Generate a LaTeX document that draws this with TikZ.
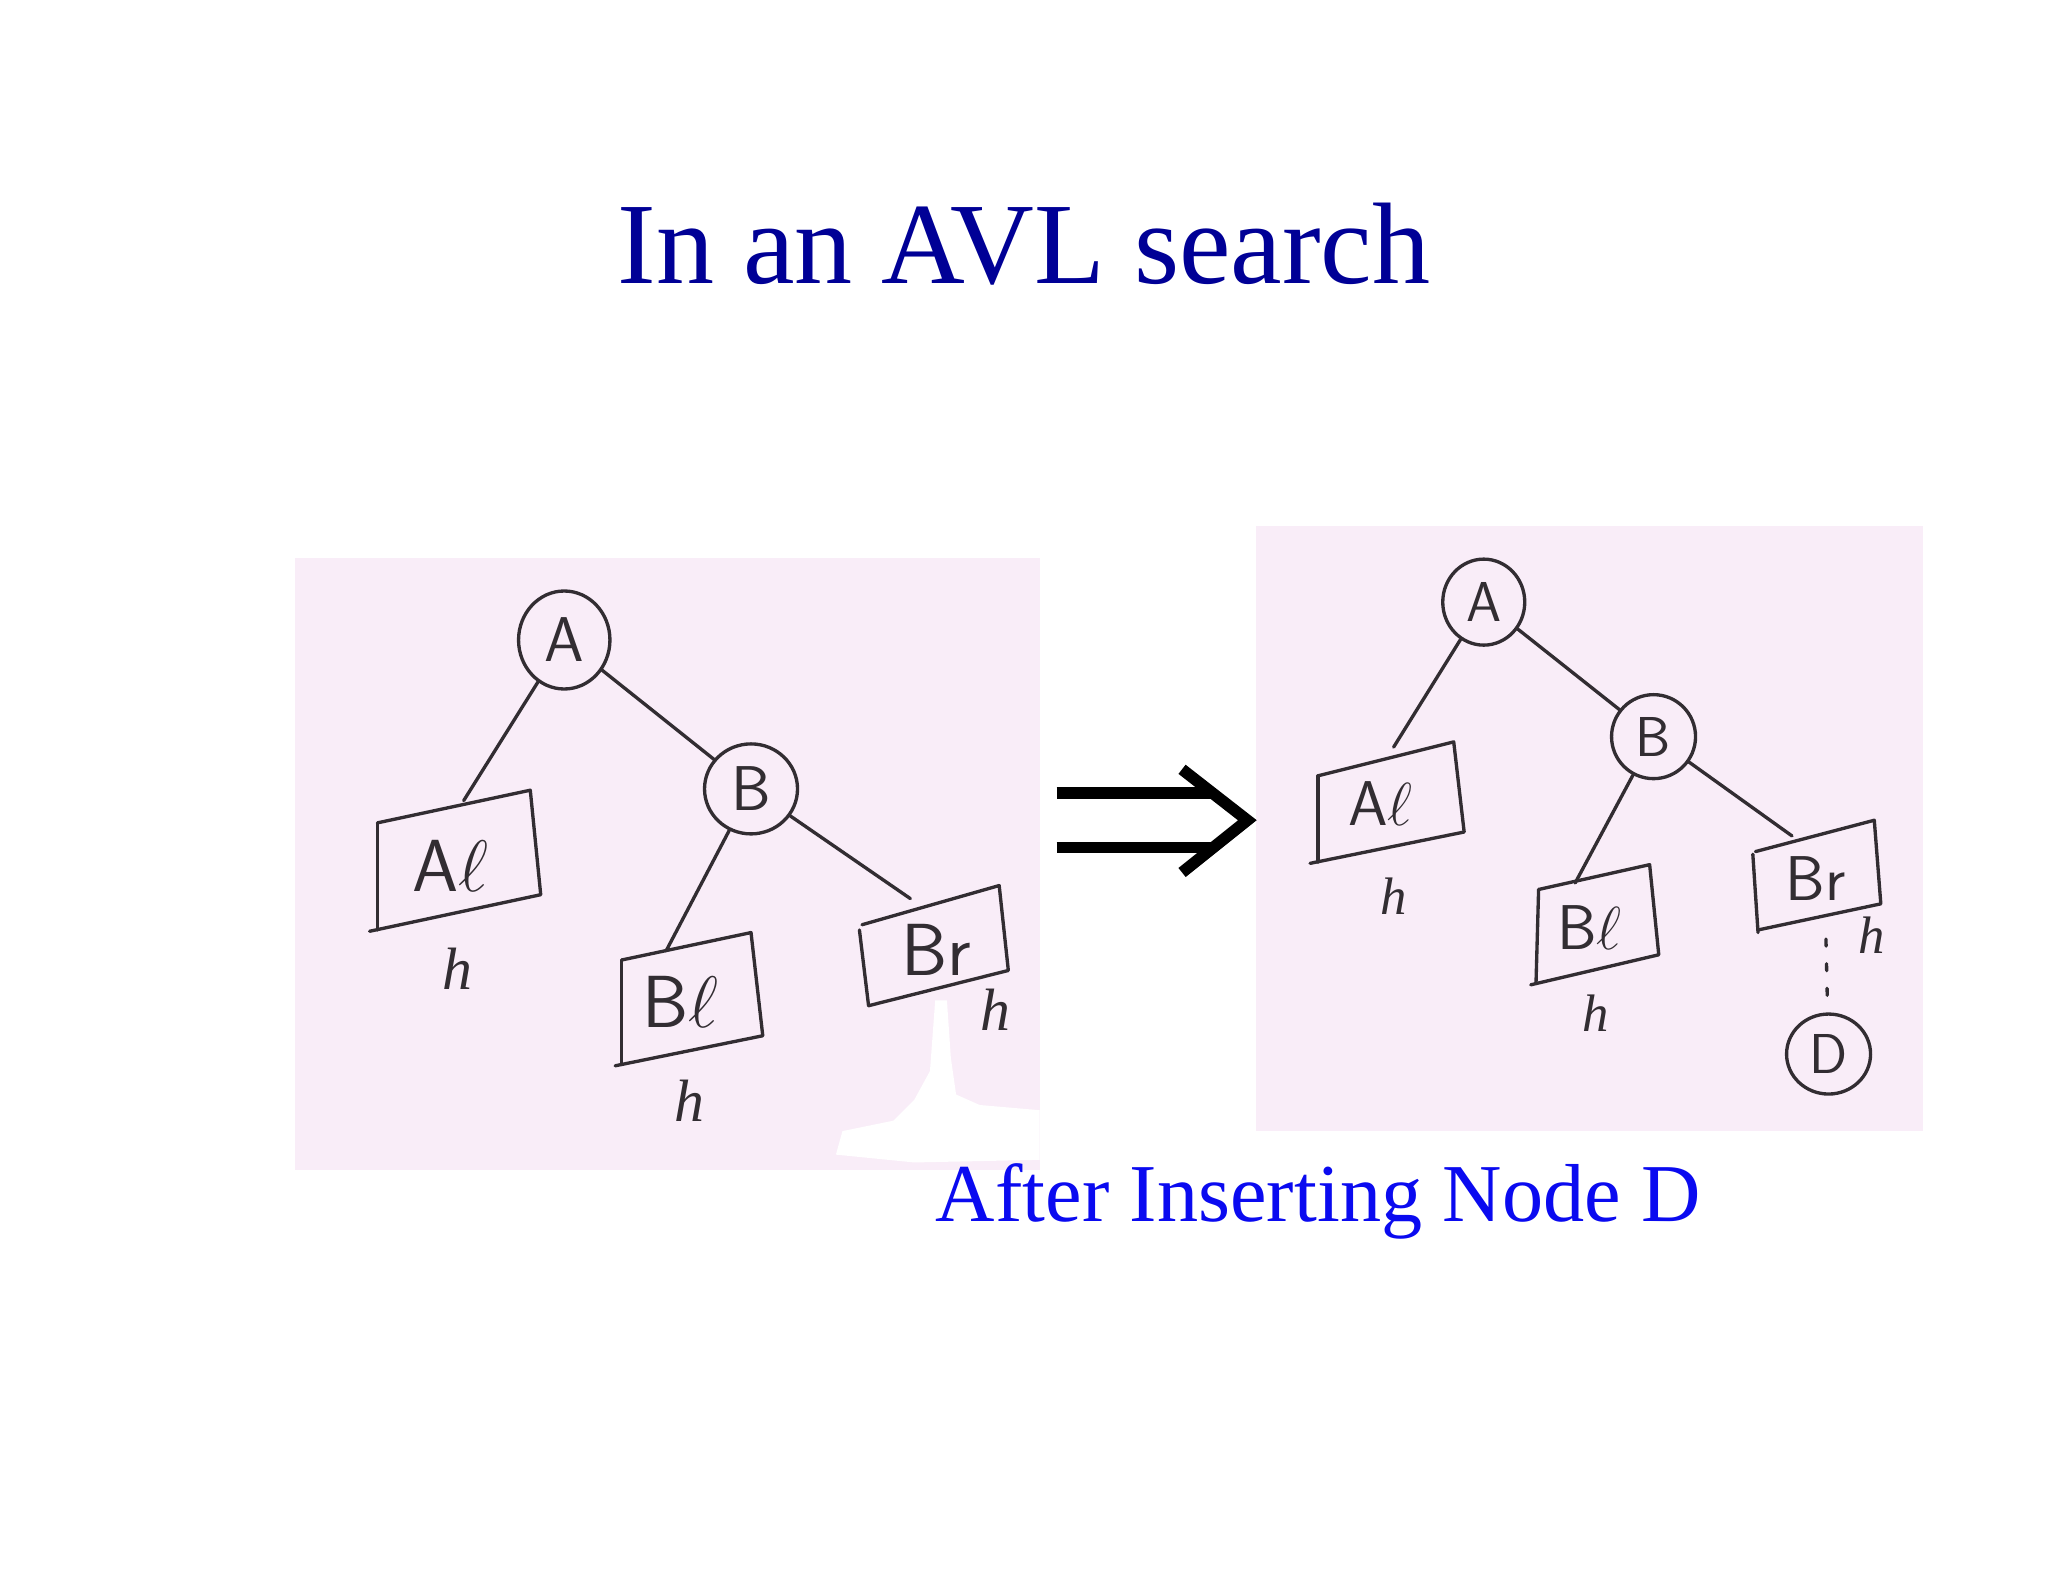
\documentclass[tikz,border=0pt]{standalone}
\usepackage{fontspec}
\usetikzlibrary{shapes.geometric}
\setmainfont{Liberation Serif}
\definecolor{titleblue}{RGB}{0,0,150}
\definecolor{capblue}{RGB}{10,10,240}
\definecolor{paper}{RGB}{249,237,248}
\definecolor{pen}{RGB}{50,45,50}
\begin{document}
\begin{tikzpicture}[x=0.01306cm,y=-0.01306cm,
  hand/.style={draw=pen,line width=0.95pt,line join=round,line cap=round},
  circL/.style={ellipse,draw=pen,line width=0.95pt,minimum width=0.914cm,minimum height=0.98cm,inner sep=0pt,font=\sffamily\fontsize{18}{18}\selectfont,text=pen},
  circR/.style={ellipse,draw=pen,line width=0.95pt,minimum width=0.82cm,minimum height=0.86cm,inner sep=0pt,font=\sffamily\fontsize{16}{16}\selectfont,text=pen},
  lblL/.style={font=\sffamily\fontsize{21}{21}\selectfont,text=pen,inner sep=0pt},
  lblR/.style={font=\sffamily\fontsize{18}{18}\selectfont,text=pen,inner sep=0pt},
  hL/.style={font=\fontsize{17}{17}\selectfont,text=pen,inner sep=0pt},
  hR/.style={font=\fontsize{15}{15}\selectfont,text=pen,inner sep=0pt},
  conn/.style={draw=pen,line width=0.95pt,line cap=round}]
\useasboundingbox (0,0) rectangle (1568,1211);
\fill[white] (0,0) rectangle (1568,1211);
% panels
\fill[paper] (226,427) rectangle (796,896);
\fill[paper] (962,403) rectangle (1472,866);
% smudge in left panel
\fill[white] (716,766) -- (725,766) -- (728,810) -- (732,838) -- (750,846) -- (796,850)
  -- (796,888) -- (700,890) -- (640,884) -- (645,866) -- (684,858) -- (700,842) -- (712,820) -- cycle;
% title
\node[anchor=base,text=titleblue,font=\fontsize{33}{36}\selectfont,inner sep=0pt] (title) at (784,217) {In an AVL search};
% caption
\node[anchor=base west,text=capblue,font=\fontsize{23.4}{26}\selectfont,inner sep=0pt] (caption) at (716,935) {After Inserting Node D};
% arrow
\draw[line width=3.3pt] (809,607) -- (928,607);
\draw[line width=3.3pt] (809,649) -- (928,649);
\draw[line width=3.3pt,line join=miter] (905,589) -- (955,628) -- (905,668);

% ---------- left tree ----------
\node[circL] (lA) at (432,490) {A};
\node[circL,minimum width=0.93cm,minimum height=0.9cm] (lB) at (575,604) {B};
\draw[hand] (289,630) -- (406,605) -- (414,685) -- (283,713);
\draw[hand] (289,630) -- (289,712);
\draw[hand] (476,735) -- (575,714) -- (584,793) -- (471,816);
\draw[hand] (476,735) -- (476,815);
\draw[hand] (660,708) -- (765,678) -- (772,743) -- (665,770);
\draw[hand] (658,712) -- (665,770);
\coordinate (lAlTop) at (355,613);
\coordinate (lBlTop) at (510,728);
\coordinate (lBrTop) at (697,688);
\node[lblL] (lAl) at (345,663) {A$\ell$};
\node[lblL] (lBl) at (521,767) {B$\ell$};
\node[lblL] (lBr) at (717,727) {Br};
\node[hL] (lh1) at (350,742) {\itshape h};
\node[hL] (lh2) at (528,843) {\itshape h};
\node[hL] (lh3) at (762,773) {\itshape h};
\draw[conn] (lA) -- (lAlTop);
\draw[conn] (lA) -- (lB);
\draw[conn] (lB) -- (lBlTop);
\draw[conn] (lB) -- (lBrTop);

% ---------- right tree ----------
\node[circR] (rA) at (1136,461) {A};
\node[circR,minimum width=0.84cm,minimum height=0.84cm] (rB) at (1266,564) {B};
\node[circR,minimum width=0.84cm,minimum height=0.8cm] (rD) at (1400,807) {D};
\draw[hand] (1009,594) -- (1113,568) -- (1121,637) -- (1003,661);
\draw[hand] (1009,594) -- (1009,660);
\draw[hand] (1178,681) -- (1263,662) -- (1270,731) -- (1172,754);
\draw[hand] (1178,681) -- (1176,753);
\draw[hand] (1344,652) -- (1435,628) -- (1440,692) -- (1346,712);
\draw[hand] (1342,654) -- (1346,714);
\coordinate (rAlTop) at (1067,572);
\coordinate (rBlTop) at (1206,676);
\coordinate (rBrTop) at (1372,640);
\coordinate (rBrBot) at (1398,719);
\node[lblR] (rAl) at (1057,615) {A$\ell$};
\node[lblR] (rBl) at (1217,710) {B$\ell$};
\node[lblR] (rBr) at (1390,673) {Br};
\node[hR] (rh1) at (1067,686) {\itshape h};
\node[hR] (rh2) at (1222,776) {\itshape h};
\node[hR] (rh3) at (1433,716) {\itshape h};
\draw[conn] (rA) -- (rAlTop);
\draw[conn] (rA) -- (rB);
\draw[conn] (rB) -- (rBlTop);
\draw[conn] (rB) -- (rBrTop);
\draw[conn,dash pattern=on 2pt off 5pt] (rBrBot) -- (rD);
\end{tikzpicture}
\end{document}
